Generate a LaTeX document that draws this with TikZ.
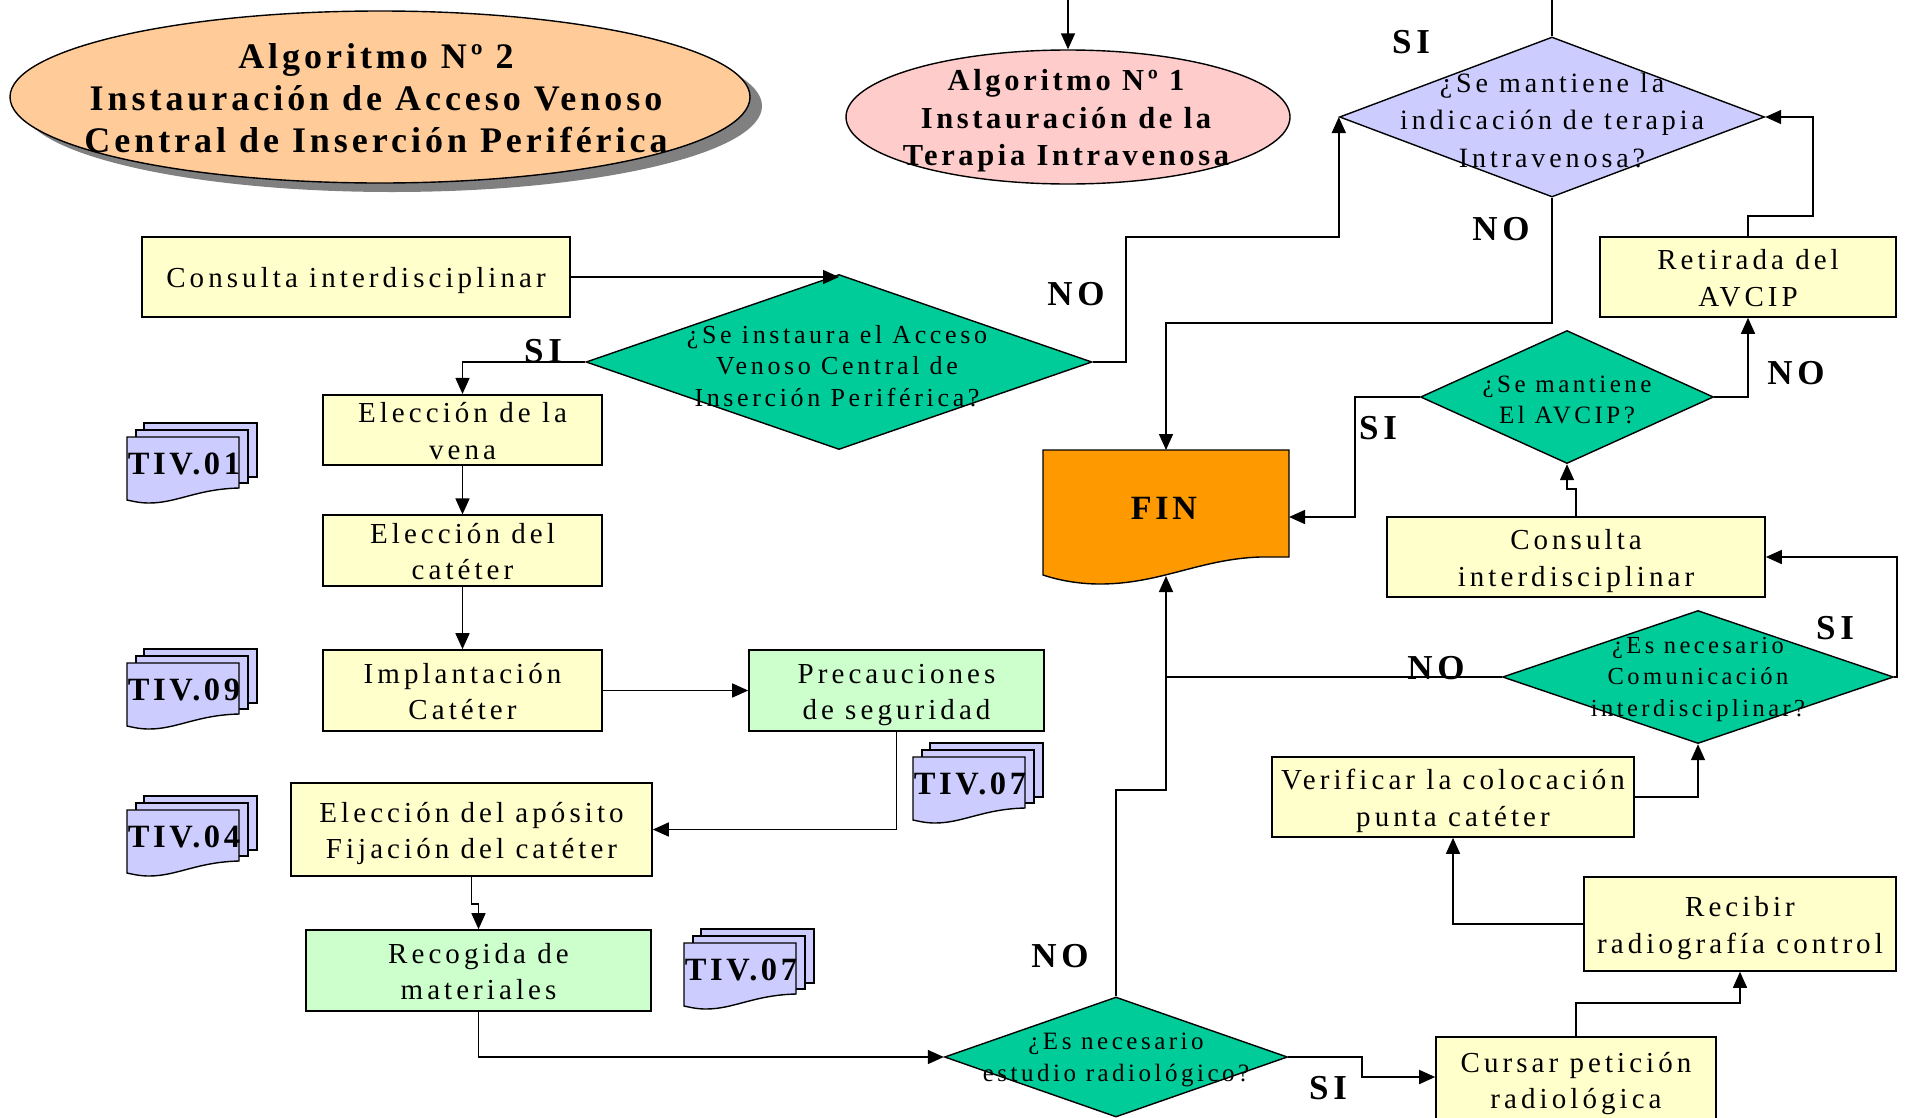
\documentclass[tikz,border=0pt]{standalone}
\usepackage{fontspec}
\setmainfont{Liberation Serif}[LetterSpace=14, Ligatures=CommonOff]
\newfontfamily\titlefont{Liberation Serif}[LetterSpace=11, Ligatures=CommonOff]
\newfontfamily\subtitlefont{Liberation Serif}[LetterSpace=12, Ligatures=CommonOff]
\usetikzlibrary{shapes.geometric, arrows.meta}
\definecolor{cyel}{HTML}{FFFFCC}
\definecolor{cgrn}{HTML}{CCFFCC}
\definecolor{cdia}{HTML}{00CC99}
\definecolor{clav}{HTML}{CCCCFF}
\definecolor{corg}{HTML}{FFCC99}
\definecolor{cpink}{HTML}{FFCCCC}
\definecolor{cfin}{HTML}{FF9900}
\definecolor{cshadow}{HTML}{808080}
\newcommand{\bs}{\rule[-6pt]{0pt}{34pt}}
\newcommand{\tivdoc}[4]{%
  \begin{scope}[shift={(#1,#2)}]
    \draw[docst] (17,-14) rectangle (130,40);
    \draw[docst] (9,-7) rectangle (121,46);
    \draw[docst] (0,0) -- (112,0) -- (112,51) .. controls (70,52) and (50,66) .. (22,66) .. controls (12,66) and (5,64) .. (0,63) -- cycle;
    \node[tivt] (#4) at (57,27) {#3};
  \end{scope}}
\begin{document}
\begin{tikzpicture}[x=1pt, y=-1pt,
  every node/.style={inner sep=0pt},
  box/.style={draw, line width=1.6pt, fill=cyel, rectangle, align=center, font=\fontsize{29}{36.5}\selectfont},
  gbox/.style={box, fill=cgrn},
  dia/.style={diamond, draw, line width=1.4pt, fill=cdia},
  dtext/.style={align=center, font=\fontsize{25}{31.5}\selectfont},
  lbl/.style={font=\bfseries\fontsize{35}{38}\selectfont},
  docst/.style={line width=1.4pt, fill=clav},
  tivt/.style={font=\titlefont\bfseries\fontsize{32.5}{35}\selectfont},
  arr/.style={line width=1.5pt, -{Triangle[length=16pt,width=14pt]}},
  ln/.style={line width=1.5pt}]
\fill[white] (0,0) rectangle (1905,1117);
\useasboundingbox (0,0) rectangle (1905,1117);

% title ellipses
\fill[cshadow] (392,106) ellipse [x radius=370pt, y radius=86pt];
\node[ellipse, draw, line width=1.4pt, fill=corg, minimum width=740pt, minimum height=172pt] (t2) at (380,97) {};
\node[align=center, font=\titlefont\bfseries\fontsize{36}{42}\selectfont] (t2txt) at (376,98)
  {Algoritmo Nº 2\\Instauración de Acceso Venoso\\Central de Inserción Periférica};
\node[ellipse, draw, line width=1.4pt, fill=cpink, minimum width=444pt, minimum height=134pt] (t1) at (1068,117) {};
\node[align=center, font=\subtitlefont\bfseries\fontsize{30.5}{37.5}\selectfont] (t1txt) at (1066,121)
  {Algoritmo Nº 1\\Instauración de la\\Terapia Intravenosa};

% boxes
\node[box, minimum width=428pt, minimum height=80pt] (c1) at (356,277) {\bs Consulta interdisciplinar};
\node[box, minimum width=279pt, minimum height=68pt] (ev) at (462.5,430) {\bs Elección de la\\\bs vena};
\node[box, minimum width=279pt, minimum height=67pt] (ec) at (462.5,550.5) {\bs Elección del\\\bs catéter};
\node[box, minimum width=279pt, minimum height=81pt] (im) at (462.5,690.5) {\bs Implantación\\\bs Catéter};
\node[gbox, minimum width=295pt, minimum height=81pt] (pr) at (896.5,690.5) {\bs Precauciones\\\bs de seguridad};
\node[box, minimum width=361pt, minimum height=93pt] (ap) at (471.5,829.5) {\bs Elección del apósito\\\bs Fijación del catéter};
\node[gbox, minimum width=345pt, minimum height=81pt] (rc) at (478.5,970.5) {\bs Recogida de\\\bs materiales};
\node[box, minimum width=378pt, minimum height=80pt] (c2) at (1576,557) {\bs Consulta\\\bs interdisciplinar};
\node[box, minimum width=296pt, minimum height=80pt] (re) at (1748,277) {\bs Retirada del\\\bs AVCIP};
\node[box, minimum width=280pt, minimum height=85pt] (cu) at (1576,1079.5) {\bs Cursar petición\\\bs radiológica};
\node[box, minimum width=312pt, minimum height=94pt] (rb) at (1740,924) {\bs Recibir\\\bs radiografía control};
\node[box, minimum width=362pt, minimum height=80pt] (ve) at (1453,797) {\bs Verificar la colocación\\\bs punta catéter};

% diamonds
\node[dia, fill=clav, minimum width=425pt, minimum height=160pt] (d1) at (1552,117) {};
\node[align=center, font=\fontsize{28}{37.5}\selectfont] (d1t) at (1552,120) {¿Se mantiene la\\indicación de terapia\\Intravenosa?};
\node[dia, minimum width=506pt, minimum height=175pt] (d2) at (839,362) {};
\node[dtext, font=\fontsize{26}{31.5}\selectfont] (d2t) at (837,366) {¿Se instaura el Acceso\\Venoso Central de\\Inserción Periférica?};
\node[dia, minimum width=343pt, minimum height=120pt] (d3) at (1116,1057) {};
\node[dtext] (d3t) at (1116,1060) {¿Es necesario\\estudio radiológico?};
\node[dia, minimum width=391pt, minimum height=133pt] (d4) at (1698,677) {};
\node[dtext, font=\fontsize{24.5}{31.5}\selectfont] (d4t) at (1698,679) {¿Es necesario\\Comunicación\\interdisciplinar?};
\node[dia, minimum width=293pt, minimum height=133pt] (d5) at (1567,397) {};
\node[dtext] (d5t) at (1567,400) {¿Se mantiene\\El AVCIP?};

% FIN
\draw[line width=1.4pt, fill=cfin] (1043,450) -- (1289,450) -- (1289,557) -- (1260,557)
  .. controls (1200,559) and (1160,584) .. (1100,584)
  .. controls (1075,584) and (1055,579) .. (1043,575) -- cycle;
\node[font=\titlefont\bfseries\fontsize{34}{36}\selectfont] (fin) at (1164,508) {FIN};
\coordinate (finN) at (1166,450);
\coordinate (finE) at (1289,517);
\coordinate (finS) at (1166,576);

% documents
\tivdoc{127}{437}{TIV.01}{tiv1}
\tivdoc{127}{663}{TIV.09}{tiv9}
\tivdoc{127}{810}{TIV.04}{tiv4}
\tivdoc{913}{757}{TIV.07}{tiv7a}
\tivdoc{684}{943}{TIV.07}{tiv7b}

% junction coordinates
\coordinate (topA) at (1068,0);
\coordinate (d1up) at (1552,0);
\coordinate (n1) at (1126,237);
\coordinate (j1) at (1166,323);
\coordinate (j3) at (1166,790);
\coordinate (j4) at (1362,1077);
\coordinate (j5) at (1355,517);
\coordinate (j6) at (1813,117);

% connectors
\draw[arr] (topA) -- (t1.north);
\draw[ln] (d1.north) -- (d1up);
\draw[arr] (c1.east) -- (c1.east -| d2.north);
\draw[arr] (d2.east) -| (n1) -| (d1.west);
\draw[arr] (d2.west) -| (ev.north);
\draw[arr] (ev.south) -- (ec.north);
\draw[arr] (ec.south) -- (im.north);
\draw[arr] (im.east) -- (pr.west);
\draw[arr] (pr.south) |- (ap.east);
\draw[arr] (ap.south) -- ++(0,27) -| (rc.north);
\draw[arr] (rc.south) |- (d3.west);
\draw[arr] (d3.north) |- (j3) -- (finS);
\draw[arr] (d3.east) -| (j4) -- (j4 -| cu.west);
\draw[arr] (cu.north) -- ++(0,-33) -| (rb.south);
\draw[arr] (rb.west) -| (ve.south);
\draw[arr] (ve.east) -| (d4.south);
\draw[arr] (d4.east) -- ++(3,0) |- (c2.east);
\draw[ln] (d4.west) -- (d4.west -| finS);
\draw[arr] (c2.north) -- ++(0,-27) -| (d5.south);
\draw[arr] (d5.west) -| (j5) -- (finE);
\draw[arr] (d5.east) -| (re.south);
\draw[arr] (re.north) -- ++(0,-20) -| (j6) -- (d1.east);
\draw[arr] (d1.south) |- (j1) -- (finN);

% labels
\node[lbl] (l1) at (543,351) {SI};
\node[lbl] (l2) at (1076,294) {NO};
\node[lbl] (l3) at (1411,42) {SI};
\node[lbl] (l4) at (1501,229) {NO};
\node[lbl] (l5) at (1378,428) {SI};
\node[lbl] (l6) at (1796,373) {NO};
\node[lbl] (l7) at (1835,628) {SI};
\node[lbl] (l8) at (1436,668) {NO};
\node[lbl] (l9) at (1060,956) {NO};
\node[lbl] (l10) at (1328,1088) {SI};
\end{tikzpicture}
\end{document}
